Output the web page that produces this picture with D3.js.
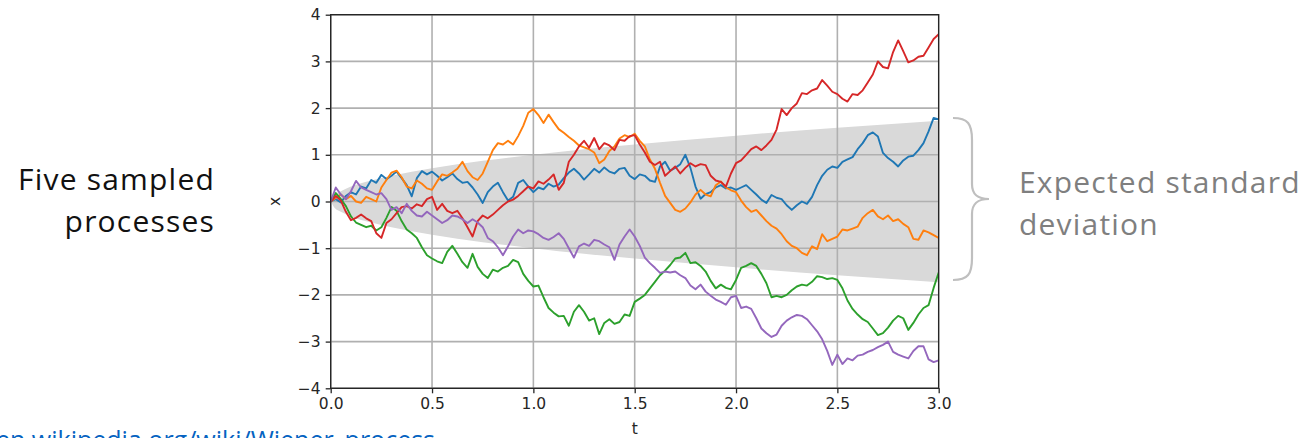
<!DOCTYPE html>
<html>
<head>
<meta charset="utf-8">
<script src="https://cdn.jsdelivr.net/npm/d3@7"></script>
<style>
  html, body { margin: 0; padding: 0; background: #fff; }
  svg { display: block; }
  text { font-variant-ligatures: none; }
</style>
</head>
<body>
<svg id="chart" width="1310" height="438"></svg>
<script>
// Time grid shared by every path: 0 to 3 in steps of 0.025
const tStep = 0.025;

// Five sampled Wiener paths, one value per time step
const seriesBlue = [0,0.05,-0.02,0.12,0.2,0.15,0.32,0.28,0.46,0.4,0.57,0.48,0.55,0.64,0.5,0.35,0.11,0.5,0.65,0.58,
  0.64,0.55,0.45,0.52,0.6,0.48,0.4,0.42,0.3,0.15,-0.03,0.2,0.32,0.4,0.2,0.02,0.1,0.4,0.46,0.32,
  0.2,0.3,0.26,0.38,0.32,0.36,0.5,0.62,0.7,0.6,0.47,0.58,0.7,0.62,0.73,0.64,0.6,0.7,0.72,0.55,
  0.48,0.58,0.55,0.45,0.42,0.75,0.85,0.66,0.72,0.8,1.0,0.72,0.32,0.06,0.16,0.2,0.3,0.35,0.28,0.3,
  0.25,0.3,0.35,0.25,0.15,0.04,-0.03,0.14,0.08,0.05,-0.08,-0.18,-0.08,0,-0.05,0.1,0.35,0.55,0.68,0.75,
  0.72,0.85,0.9,0.95,1.12,1.25,1.42,1.48,1.39,1.04,0.93,0.85,0.75,0.88,0.96,0.98,1.1,1.25,1.5,1.79,1.76];

const seriesOrange = [0,0.08,0.15,0.05,0.12,0,-0.03,0.1,0.05,0,0.3,0.46,0.62,0.66,0.52,0.32,0.28,0.45,0.38,0.28,
  0.25,0.43,0.58,0.55,0.62,0.7,0.85,0.65,0.52,0.46,0.6,0.85,1.1,1.25,1.22,1.3,1.22,1.4,1.62,1.9,
  1.98,1.85,1.68,1.86,1.7,1.55,1.47,1.38,1.3,1.2,1.16,1.12,1.05,0.82,0.9,1.08,1.18,1.35,1.42,1.38,
  1.45,1.3,1.18,0.9,0.7,0.4,0.12,-0.03,-0.18,-0.22,-0.15,-0.02,0.15,0.25,0.15,0.11,0.35,0.43,0.3,0.24,
  0.2,0.02,-0.12,-0.22,-0.18,-0.3,-0.42,-0.52,-0.58,-0.7,-0.85,-0.95,-1.0,-1.1,-1.15,-0.96,-1.02,-0.7,-0.85,-0.8,
  -0.75,-0.6,-0.62,-0.58,-0.54,-0.35,-0.25,-0.18,-0.32,-0.38,-0.3,-0.42,-0.38,-0.48,-0.55,-0.8,-0.82,-0.62,-0.66,-0.72,-0.78];

const seriesGreen = [0,0.18,0.05,-0.1,-0.32,-0.45,-0.5,-0.55,-0.52,-0.62,-0.55,-0.35,-0.12,-0.2,-0.42,-0.6,-0.68,-0.78,-0.98,-1.15,
  -1.22,-1.28,-1.32,-1.08,-0.95,-1.12,-1.3,-1.42,-1.12,-1.4,-1.55,-1.64,-1.46,-1.5,-1.42,-1.38,-1.25,-1.3,-1.55,-1.7,
  -1.82,-1.8,-2.05,-2.28,-2.38,-2.46,-2.45,-2.66,-2.36,-2.22,-2.36,-2.55,-2.5,-2.84,-2.6,-2.52,-2.62,-2.58,-2.42,-2.45,
  -2.15,-2.08,-2.0,-1.86,-1.72,-1.58,-1.48,-1.36,-1.22,-1.2,-1.1,-1.32,-1.3,-1.38,-1.5,-1.7,-1.86,-1.78,-1.85,-1.88,
  -1.68,-1.42,-1.38,-1.32,-1.38,-1.55,-1.75,-2.05,-2.02,-2.05,-2.0,-1.9,-1.82,-1.78,-1.8,-1.72,-1.6,-1.62,-1.66,-1.64,
  -1.68,-1.86,-2.12,-2.3,-2.42,-2.52,-2.58,-2.72,-2.86,-2.82,-2.7,-2.55,-2.45,-2.5,-2.75,-2.6,-2.42,-2.28,-2.22,-1.85,-1.52];

const seriesRed = [0,0.12,0.02,-0.22,-0.4,-0.35,-0.28,-0.36,-0.42,-0.68,-0.78,-0.46,-0.38,-0.25,-0.12,-0.1,-0.15,-0.06,-0.1,0.05,
  0.1,-0.18,-0.05,-0.2,-0.25,-0.2,-0.36,-0.55,-0.75,-0.42,-0.3,-0.36,-0.28,-0.18,-0.08,0,0.04,0.12,0.22,0.32,
  0.28,0.43,0.38,0.47,0.58,0.25,0.4,0.85,1.0,1.18,1.3,1.15,1.36,1.12,1.25,1.2,1.1,1.32,1.3,1.4,
  1.42,1.22,1.05,0.85,0.78,0.85,0.55,0.65,0.75,0.6,0.72,0.82,0.75,0.8,0.78,0.55,0.45,0.42,0.32,0.6,
  0.82,0.88,1.0,1.12,1.18,1.1,1.2,1.32,1.54,1.98,1.85,2.0,2.1,2.32,2.3,2.38,2.42,2.6,2.48,2.35,
  2.3,2.2,2.14,2.3,2.28,2.38,2.55,2.72,3.0,2.88,2.85,3.2,3.45,3.22,2.98,3.02,3.1,3.12,3.3,3.48,3.58];

const seriesPurple = [0,0.3,0.15,0.05,0.22,0.44,0.3,0.25,0.2,0.15,0.18,0.05,-0.18,-0.12,-0.25,-0.05,-0.2,-0.3,-0.32,-0.22,
  -0.3,-0.38,-0.46,-0.4,-0.3,-0.32,-0.38,-0.46,-0.38,-0.45,-0.55,-0.78,-0.85,-0.98,-1.15,-0.96,-0.75,-0.6,-0.68,-0.62,
  -0.64,-0.7,-0.78,-0.82,-0.76,-0.68,-0.8,-1.0,-1.2,-0.96,-0.9,-0.95,-0.82,-0.85,-0.92,-0.98,-1.25,-0.92,-0.75,-0.6,
  -0.75,-0.95,-1.2,-1.32,-1.42,-1.53,-1.5,-1.52,-1.5,-1.58,-1.64,-1.8,-1.88,-1.78,-1.93,-2.02,-2.1,-2.15,-2.21,-2.05,
  -2.02,-2.28,-2.25,-2.3,-2.5,-2.72,-2.82,-2.9,-2.85,-2.66,-2.55,-2.48,-2.43,-2.45,-2.52,-2.65,-2.78,-2.95,-3.2,-3.5,
  -3.28,-3.48,-3.36,-3.4,-3.3,-3.28,-3.22,-3.18,-3.12,-3.07,-3.0,-3.22,-3.28,-3.32,-3.36,-3.2,-3.1,-3.1,-3.38,-3.44,-3.4];

const seriesList = [seriesBlue, seriesOrange, seriesGreen, seriesRed, seriesPurple];
const seriesColors = ["#1f77b4", "#ff7f0e", "#2ca02c", "#d62728", "#9467bd"];

// Expected standard deviation envelope (±sigma) at a few times
const sigmaT = [0, 0.02, 0.05, 0.1, 0.2, 0.3, 0.5, 0.75, 1.0, 1.25, 1.5, 2.0, 2.5, 3.0];
const sigmaV = [0, 0.14, 0.22, 0.32, 0.45, 0.55, 0.71, 0.87, 1.0, 1.12, 1.22, 1.41, 1.58, 1.73];

const xTicks = [0, 0.5, 1.0, 1.5, 2.0, 2.5, 3.0];
const yTicks = [-4, -3, -2, -1, 0, 1, 2, 3, 4];

const svg = d3.select("#chart");
const plot = { left: 330.7, right: 938.7, top: 14.7, bottom: 388.3 };

const x = d3.scaleLinear().domain([0, 3]).range([plot.left, plot.right]);
const y = d3.scaleLinear().domain([-4, 4]).range([plot.bottom, plot.top]);

// Clip marks to the axes box
svg.append("defs").append("clipPath").attr("id", "plotClip")
  .append("rect")
  .attr("x", plot.left).attr("y", plot.top)
  .attr("width", plot.right - plot.left).attr("height", plot.bottom - plot.top);

const body = svg.append("g").attr("clip-path", "url(#plotClip)");

// Shaded ±sigma band
const bandData = sigmaT.map((t, i) => ({ t, s: sigmaV[i] }));
body.append("path")
  .datum(bandData)
  .attr("fill", "#d9d9d9")
  .attr("d", d3.area()
    .x(d => x(d.t))
    .y0(d => y(-d.s))
    .y1(d => y(d.s))
    .curve(d3.curveMonotoneX));

// Grid
body.append("g")
  .selectAll("line").data(xTicks).join("line")
  .attr("x1", d => x(d)).attr("x2", d => x(d))
  .attr("y1", plot.top).attr("y2", plot.bottom)
  .attr("stroke", "#b0b0b0").attr("stroke-width", 1.6);
body.append("g")
  .selectAll("line").data(yTicks).join("line")
  .attr("y1", d => y(d)).attr("y2", d => y(d))
  .attr("x1", plot.left).attr("x2", plot.right)
  .attr("stroke", "#b0b0b0").attr("stroke-width", 1.6);

// Sample paths
const line = d3.line()
  .x((d, i) => x(i * tStep))
  .y(d => y(d));

seriesList.forEach((s, k) => {
  body.append("path")
    .datum(s)
    .attr("fill", "none")
    .attr("stroke", seriesColors[k])
    .attr("stroke-width", 1.9)
    .attr("stroke-linejoin", "round")
    .attr("d", line);
});

// Axes box
svg.append("rect")
  .attr("x", plot.left).attr("y", plot.top)
  .attr("width", plot.right - plot.left).attr("height", plot.bottom - plot.top)
  .attr("fill", "none").attr("stroke", "#262626").attr("stroke-width", 1.4);

const fmtX = d3.format(".1f");
const fmtY = d => d3.format("d")(d).replace("-", "\u2212");

const xAxis = d3.axisBottom(x).tickValues(xTicks).tickFormat(fmtX).tickSize(5).tickPadding(5);
const yAxis = d3.axisLeft(y).tickValues(yTicks).tickFormat(fmtY).tickSize(5).tickPadding(5);

const gx = svg.append("g").attr("transform", `translate(0,${plot.bottom})`).call(xAxis);
const gy = svg.append("g").attr("transform", `translate(${plot.left},0)`).call(yAxis);

[gx, gy].forEach(g => {
  g.select(".domain").remove();
  g.selectAll(".tick line").attr("stroke", "#262626").attr("stroke-width", 1.3);
  g.selectAll(".tick text")
    .attr("fill", "#262626")
    .style("font-family", "'DejaVu Sans', sans-serif")
    .style("font-size", "15.5px");
});

// Axis labels
svg.append("text")
  .attr("x", x(1.5)).attr("y", 434)
  .attr("text-anchor", "middle")
  .attr("fill", "#262626")
  .style("font-family", "'DejaVu Sans', sans-serif")
  .style("font-size", "15.5px")
  .text("t");

svg.append("text")
  .attr("transform", `translate(280,${y(0)}) rotate(-90)`)
  .attr("text-anchor", "middle")
  .attr("fill", "#262626")
  .style("font-family", "'DejaVu Sans', sans-serif")
  .style("font-size", "15.5px")
  .text("x");

// Annotation on the left
const noteFont = "'Open Sans', Lato, sans-serif";
const leftNote = svg.append("text")
  .attr("text-anchor", "end")
  .attr("fill", "#111")
  .style("font-family", noteFont)
  .style("font-size", "30px")
  .style("letter-spacing", "1.2px");
leftNote.append("tspan").attr("x", 215).attr("y", 190).text("Five sampled");
leftNote.append("tspan").attr("x", 215).attr("y", 232).text("processes");

// Brace marking the band
svg.append("path")
  .attr("d", "M953,118 C968,118 972,124 972,140 L972,184 C972,195 978,199 989,199 C978,199 972,203 972,214 L972,258 C972,274 968,280 953,280")
  .attr("fill", "none")
  .attr("stroke", "#bfbfbf")
  .attr("stroke-width", 2.2);

const rightNote = svg.append("text")
  .attr("fill", "#7f7f7f")
  .style("font-family", noteFont)
  .style("font-size", "30px")
  .style("letter-spacing", "1.2px");
rightNote.append("tspan").attr("x", 1019).attr("y", 193).text("Expected standard");
rightNote.append("tspan").attr("x", 1019).attr("y", 235).text("deviation");

// Source link along the bottom edge
svg.append("text")
  .attr("x", 435).attr("y", 449)
  .attr("text-anchor", "end")
  .attr("fill", "#0563c1")
  .style("font-family", noteFont)
  .style("font-size", "25px")
  .text("https://en.wikipedia.org/wiki/Wiener_process");
</script>
</body>
</html>
